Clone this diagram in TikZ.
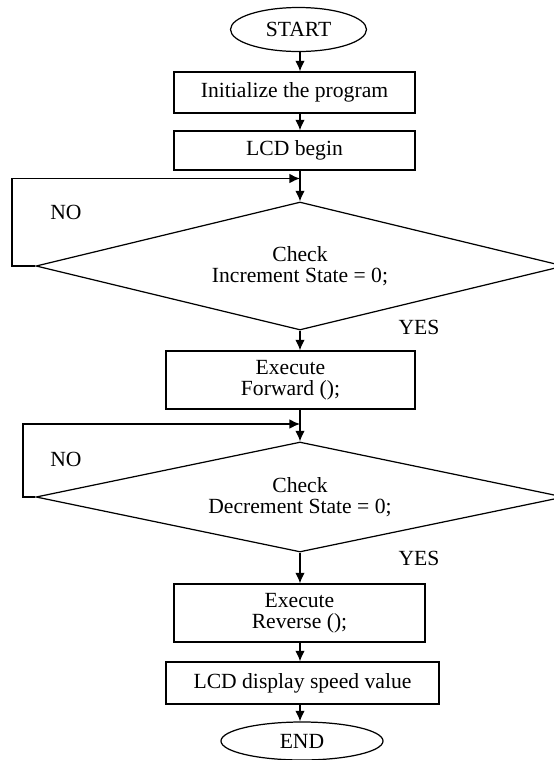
\documentclass[tikz,border=0pt]{standalone}
\usepackage{fontspec}
\setmainfont{Liberation Serif}
\usetikzlibrary{arrows.meta,shapes.geometric}

\begin{document}
\begin{tikzpicture}[>={Latex[length=6pt,width=5.4pt]},line width=0.7pt,
	font=\fontsize{12.3}{12}\selectfont,
	procbox/.style={draw,rectangle,inner sep=0pt,align=center},
	termnode/.style={draw,ellipse,inner sep=0pt},
	decision/.style={draw,diamond,aspect=4.5,inner sep=0pt,align=center}]

	% fix the size of the page
	\useasboundingbox (0,0) rectangle (11.08,-15.2);

	% the vertical line all arrows follow
	\coordinate (axis) at (6.0,0);

	% start, initialisation and lcd
	\node[termnode,minimum width=2.72cm,minimum height=0.88cm] (start) at (5.97,-0.59) {START};
	\node[procbox,minimum width=4.82cm,minimum height=0.82cm] (init) at (5.89,-1.85) {Initialize the program};
	\node[procbox,minimum width=4.82cm,minimum height=0.78cm] (lcd) at (5.89,-3.01) {LCD begin};

	% first check and its loop back
	\coordinate (join1) at (6.0,-3.57);
	\coordinate (loop1) at (0.24,-3.57);
	\node[decision,minimum width=10.56cm,minimum height=2.56cm] (checkinc) at (6.0,-5.32) {Check\\Increment State = 0;};
	\node (no1) at (1.32,-4.24) {NO};
	\node (yes1) at (8.38,-6.54) {YES};

	\node[procbox,minimum width=4.98cm,minimum height=1.16cm] (fwd) at (5.81,-7.60) {Execute\\Forward ();};

	% second check and its loop back
	\coordinate (join2) at (6.0,-8.48);
	\coordinate (loop2) at (0.46,-8.48);
	\node[decision,minimum width=10.56cm,minimum height=2.20cm] (checkdec) at (6.0,-9.94) {Check\\Decrement State = 0;};
	\node (no2) at (1.32,-9.18) {NO};
	\node (yes2) at (8.38,-11.16) {YES};

	% reverse, display and end
	\node[procbox,minimum width=5.02cm,minimum height=1.16cm] (rev) at (5.99,-12.26) {Execute\\Reverse ();};
	\node[procbox,minimum width=5.46cm,minimum height=0.84cm] (speed) at (6.05,-13.66) {LCD display speed value};
	\node[termnode,minimum width=3.24cm,minimum height=0.76cm] (finish) at (6.04,-14.82) {END};

	% arrows down the main line
	\draw[->] (axis |- start.south) -- (axis |- init.north);
	\draw[->] (axis |- init.south) -- (axis |- lcd.north);
	\draw[->] (axis |- lcd.south) -- (checkinc.north);
	\draw[->] (checkinc.south) -- (axis |- fwd.north);
	\draw[->] (axis |- fwd.south) -- (checkdec.north);
	\draw[->] (checkdec.south) -- (axis |- rev.north);
	\draw[->] (axis |- rev.south) -- (axis |- speed.north);
	\draw[->] (axis |- speed.south) -- (axis |- finish.north);

	% the NO branches
	\draw[->] (checkinc.west) -| (loop1) -- (join1);
	\draw[->] (checkdec.west) -| (loop2) -- (join2);

\end{tikzpicture}
\end{document}
